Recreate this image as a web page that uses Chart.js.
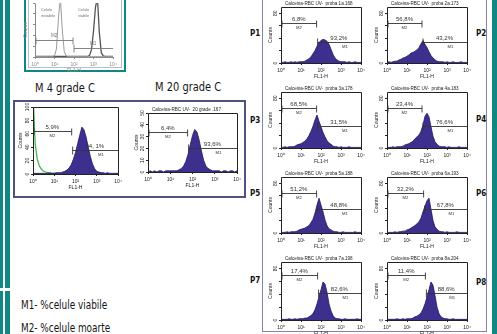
<!DOCTYPE html>
<html>
<head>
<meta charset="utf-8">
<script src="https://cdn.jsdelivr.net/npm/chart.js@4.4.1/dist/chart.umd.min.js"></script>
<style>
  html, body { margin: 0; padding: 0; background: #fff; }
  body { position: relative; width: 497px; height: 334px; overflow: hidden; }
  .blk { position: absolute; }
  .teal { background: #108782; }
  canvas { position: absolute; }
  .cap { position: absolute; font-family: "DejaVu Sans", sans-serif; color: #151515; white-space: nowrap; transform-origin: 0 50%; }
  .plab { position: absolute; font-family: "DejaVu Sans", sans-serif; font-weight: bold; font-size: 9px; line-height: 10px; color: #111; transform: scaleX(0.8); transform-origin: 0 50%; }
</style>
</head>
<body>
<div class="blk teal" style="left:0;top:0;width:3px;height:334px"></div>
<div class="blk teal" style="left:5px;top:0;width:5px;height:334px"></div>
<div class="blk" style="left:0;top:288px;width:12px;height:3px;background:#fff"></div>
<div class="blk teal" style="left:492px;top:0;width:5px;height:334px"></div>

<div class="blk" style="left:24px;top:-4px;width:98px;height:72px;border:2px solid #108782"></div>
<div class="blk" style="left:28px;top:-4px;width:92px;height:70px;border:1px solid #b9bcc4"></div>

<div class="blk" style="left:13px;top:100px;width:229px;height:94px;border:2px solid #4f5180"></div>
<div class="blk" style="left:262px;top:-2px;width:223px;height:332px;border:1px solid #8286ad"></div>

<div class="cap" style="left:35px;top:81px;font-size:13px;line-height:13px;transform:scaleX(0.76)">M 4 grade C</div>
<div class="cap" style="left:155px;top:80px;font-size:13px;line-height:13px;transform:scaleX(0.76)">M 20 grade C</div>
<div class="cap" style="left:21px;top:299px;font-size:12px;line-height:12px;transform:scaleX(0.74)">M1- %celule viabile</div>
<div class="cap" style="left:21px;top:322px;font-size:12px;line-height:12px;transform:scaleX(0.74)">M2- %celule moarte</div>

<div class="plab" style="left:250px;top:28px">P1</div>
<div class="plab" style="left:250px;top:115px">P3</div>
<div class="plab" style="left:250px;top:188px">P5</div>
<div class="plab" style="left:250px;top:275px">P7</div>
<div class="plab" style="left:476px;top:28px">P2</div>
<div class="plab" style="left:476px;top:114px">P4</div>
<div class="plab" style="left:476px;top:188px">P6</div>
<div class="plab" style="left:476px;top:277px">P8</div>

<script>
// log10 fluorescence bins (FL1-H, 10^0 .. 10^4)
const logBins = [0.0, 0.1, 0.2, 0.3, 0.4, 0.5, 0.6, 0.7, 0.8, 0.9, 1.0, 1.1, 1.2, 1.3, 1.4, 1.5, 1.6, 1.7, 1.8, 1.9, 2.0, 2.1, 2.2, 2.3, 2.4, 2.5, 2.6, 2.7, 2.8, 2.9, 3.0, 3.1, 3.2, 3.3, 3.4, 3.5, 3.6, 3.7, 3.8, 3.9, 4.0];
const decadeLabels = ["10⁰", "10¹", "10²", "10³", "10⁴"];

// samples P1..P8
const sampleTitles = ["Calceina-RBC UV-  proba 1a.168", "Calceina-RBC UV-  proba 2a.173", "Calceina-RBC UV-  proba 3a.178", "Calceina-RBC UV-  proba 4a.183",
  "Calceina-RBC UV-  proba 5a.188", "Calceina-RBC UV-  proba 6a.193", "Calceina-RBC UV-  proba 7a.198", "Calceina-RBC UV-  proba 8a.204"];
const deadPct = ["6,8%", "56,8%", "68,5%", "23,4%", "51,2%", "32,2%", "17,4%", "11,4%"];
const livePct = ["93,2%", "43,2%", "31,5%", "76,6%", "48,8%", "67,8%", "82,6%", "88,6%"];
const gateSplit = [1.78, 1.75, 1.78, 1.75, 1.78, 1.83, 1.83, 1.92];
const m2Level = [64, 64, 64, 64, 64, 64, 70, 70];
const m1Level = [33, 33, 35, 35, 39, 39, 42, 42];

const countsP1 = [1,1,2,1,1,2,1,2,1,2,2,2,3,5,7,10,15,20,27,33,36,38,37,35,30,22,14,8,5,3,2,2,2,1,2,1,1,2,1,1,1];
const countsP2 = [1,2,1,2,3,3,5,6,8,9,11,13,16,17,19,21,25,31,36,30,25,18,12,8,5,3,2,2,2,1,2,1,1,2,1,1,1,2,1,1,1];
const countsP3 = [1,1,2,1,2,2,2,3,5,6,7,9,11,15,20,27,35,45,53,43,34,25,18,12,8,6,3,2,2,1,2,1,1,1,2,1,1,1,1,1,1];
const countsP4 = [1,1,1,2,1,2,2,2,3,5,6,7,9,11,15,18,21,27,37,51,56,50,34,19,10,6,3,2,2,2,1,2,1,1,1,1,2,1,1,1,1];
const countsP5 = [1,1,1,2,1,2,2,2,3,5,6,7,8,10,12,17,22,32,45,56,45,34,21,12,7,5,3,2,2,1,1,2,1,1,1,1,1,2,1,1,1];
const countsP6 = [1,1,1,1,2,1,2,2,3,3,5,6,8,10,12,15,18,24,34,43,52,56,38,20,10,6,3,2,2,1,2,1,1,1,1,2,1,1,1,1,1];
const countsP7 = [1,1,1,1,2,1,1,2,1,2,2,2,3,3,5,7,10,16,25,36,47,59,56,43,25,14,7,3,2,2,1,1,2,1,1,1,1,1,2,1,1];
const countsP8 = [1,1,1,1,1,2,1,1,2,1,2,2,2,3,5,6,8,11,17,25,36,47,59,54,38,20,10,5,3,2,2,1,1,2,1,1,1,1,1,1,1];

// 4 and 20 degree samples
const countsM4 = [1,1,1,1,1,1,1,1,1,1,1,2,2,2,3,4,6,9,14,22,32,45,58,70,66,55,40,26,15,8,4,3,2,2,1,2,1,1,1,1,1];
const controlM4 = [125,46,22,12,7,4,3,2,2,1,1,1,1];
const countsM20 = [0,1,0,1,0,1,1,0,1,1,1,1,1,1,2,3,5,9,15,23,31,36,34,27,18,10,5,3,2,1,1,1,1,0,1,1,0,1,1,0,1];

// reference histograms (dead / live cells)
const refDead = [1,1,1,1,1,1,1,1,1,1,2,15,70,110,50,10,2,1,1,1,1,1,1,1,1,1,1,1,1,1,1,1,1,1,1,1,1,1,1,1,1];
const refLive = [1,1,1,1,1,1,1,1,1,1,1,1,1,1,1,1,1,1,1,1,1,1,1,1,1,1,1,1,3,14,48,92,110,45,8,2,1,1,1,1,1];

const FONT = '"Liberation Sans", Arial, sans-serif';
Chart.defaults.font.family = FONT;

function toPoints(values) {
  return values.map((v, i) => ({ x: logBins[i], y: v }));
}

const facsDecor = {
  id: "facsDecor",
  afterDatasetsDraw(chart, args, o) {
    const { ctx, chartArea: a } = chart;
    const xs = chart.scales.x, ys = chart.scales.y;
    ctx.save();
    ctx.strokeStyle = o.ink;
    ctx.fillStyle = o.ink;
    ctx.lineWidth = 1;
    const l = Math.round(a.left) + 0.5, r = Math.round(a.right) + 0.5;
    const t = Math.round(a.top) + 0.5, b = Math.round(a.bottom) + 0.5;
    ctx.beginPath();
    if (o.frame) {
      ctx.rect(l, t, r - l, b - t);
    } else {
      ctx.moveTo(l, t); ctx.lineTo(l, b); ctx.lineTo(r, b);
    }
    ctx.stroke();

    // rotated y labels
    ctx.font = "5px " + FONT;
    ctx.textAlign = "center";
    ctx.textBaseline = "middle";
    ys.ticks.forEach(tk => {
      if (!o.yLabels.includes(tk.value)) return;
      ctx.save();
      ctx.translate(a.left - 5, ys.getPixelForValue(tk.value));
      ctx.rotate(-Math.PI / 2);
      ctx.fillText(String(tk.value), 0, 0);
      ctx.restore();
    });
    ctx.save();
    ctx.translate(a.left - o.countsGap, (a.top + a.bottom) / 2);
    ctx.rotate(-Math.PI / 2);
    ctx.fillText("Counts", 0, 0);
    ctx.restore();
    ctx.fillText("FL1-H", (a.left + a.right) / 2, a.bottom + 14);

    if (o.title) {
      ctx.font = "4.6px " + FONT;
      ctx.textAlign = "left";
      ctx.textBaseline = "bottom";
      ctx.fillText(o.title, a.left + 4, a.top - 1);
    }

    // M1 / M2 gates
    const g = o.gate;
    const x0 = xs.getPixelForValue(0), xm = xs.getPixelForValue(g.split), x4 = xs.getPixelForValue(4);
    const y2 = Math.round(ys.getPixelForValue(g.m2)) + 0.5, y1 = Math.round(ys.getPixelForValue(g.m1)) + 0.5;
    ctx.strokeStyle = o.gateInk;
    ctx.lineWidth = 0.9;
    ctx.beginPath();
    ctx.moveTo(x0, y2); ctx.lineTo(xm, y2);
    ctx.moveTo(x0 + 1, y2 - 3); ctx.lineTo(x0 + 1, y2 + 4);
    ctx.moveTo(xm, y2 - 3); ctx.lineTo(xm, y2 + 4);
    ctx.moveTo(xm + 1, y1); ctx.lineTo(x4, y1);
    ctx.moveTo(xm + 1, y1 - 4); ctx.lineTo(xm + 1, y1 + 4);
    ctx.stroke();
    const c2 = (x0 + xm) / 2, c1 = (xm + x4) / 2;
    ctx.fillStyle = o.gateInk;
    ctx.textAlign = "center";
    if (g.labelsAbove) {
      ctx.font = "4.5px " + FONT;
      ctx.textBaseline = "bottom";
      ctx.fillText("M2", c2, y2 - 2);
      ctx.fillText("M1", c1, y1 - 2);
    } else {
      ctx.font = "4.2px " + FONT;
      ctx.textBaseline = "top";
      ctx.fillText("M2", c2, y2 + 2);
      ctx.fillText("M1", c1 + 6, y1 + 2);
      ctx.font = "6px " + FONT;
      ctx.textBaseline = "bottom";
      ctx.fillText(g.pct2, c2, y2 - 1);
      ctx.fillText(g.pct1, c1, y1 - 1);
    }

    (o.notes || []).forEach(n => {
      ctx.font = "4px " + FONT;
      ctx.textAlign = "left";
      ctx.textBaseline = "middle";
      n.lines.forEach((s, i) => ctx.fillText(s, xs.getPixelForValue(n.x), ys.getPixelForValue(n.y) + i * 6));
    });
    ctx.restore();
  }
};

function addHistogram(plot, spec) {
  const [x0, y0, x1, y1] = plot;
  const L = 16, T = 8, R = 8, B = 18;
  const cv = document.createElement("canvas");
  cv.width = x1 - x0 + L + R;
  cv.height = y1 - y0 + T + B;
  cv.style.left = (x0 - L) + "px";
  cv.style.top = (y0 - T) + "px";
  document.body.appendChild(cv);
  const ink = spec.ink || "#222";
  return new Chart(cv, {
    type: "line",
    data: {
      datasets: spec.series.map(s => ({
        data: toPoints(s.values),
        fill: s.fill ? "origin" : false,
        backgroundColor: s.fill || "transparent",
        borderColor: s.line,
        borderWidth: s.width || 0.8,
        pointRadius: 0,
        tension: 0
      }))
    },
    options: {
      responsive: false,
      animation: false,
      events: [],
      layout: { padding: { left: 0, top: T, right: R, bottom: 0 } },
      plugins: {
        legend: { display: false },
        tooltip: { enabled: false },
        facsDecor: {
          ink: ink,
          gateInk: spec.gateInk || "#333",
          frame: spec.frame !== false,
          title: spec.title,
          yLabels: spec.yLabels,
          countsGap: spec.countsGap,
          gate: spec.gate,
          notes: spec.notes
        }
      },
      scales: {
        x: {
          type: "linear",
          min: 0,
          max: 4,
          afterFit: s => { s.height = B; },
          ticks: { stepSize: 1, autoSkip: false, maxRotation: 0, padding: 3, color: ink, font: { size: 5 }, callback: v => decadeLabels[v] },
          grid: { drawOnChartArea: false, drawTicks: true, tickLength: 2, color: ink },
          border: { display: false }
        },
        y: {
          min: 0,
          max: spec.yMax,
          afterFit: s => { s.width = L; },
          ticks: { display: false, stepSize: spec.yStep, includeBounds: false },
          grid: { drawOnChartArea: false, drawTicks: true, tickLength: 2, color: ink },
          border: { display: false }
        }
      }
    },
    plugins: [facsDecor]
  });
}

const PURPLE = "#3d2f8e", PURPLE_EDGE = "#1f175e";

// reference plot (top left)
addHistogram([35, 3, 113, 57], {
  ink: "#8a8a8a", gateInk: "#777", frame: false, yMax: 100, yStep: 20, yLabels: [], countsGap: 9,
  series: [
    { values: refDead, line: "#9b9b9b", width: 1 },
    { values: refLive, line: "#555", width: 1.3 }
  ],
  gate: { split: 1.95, m2: 31, m1: 17, labelsAbove: true },
  notes: [
    { x: 0.3, y: 87, lines: ["Celule", "inviabile"] },
    { x: 2.2, y: 87, lines: ["Celule", "viabile"] }
  ]
});

// M 4 grade C
addHistogram([33, 107, 118, 174], {
  yMax: 100, yStep: 20, yLabels: [0, 20, 40, 60, 80, 100], countsGap: 12,
  series: [
    { values: countsM4, fill: PURPLE, line: PURPLE_EDGE },
    { values: controlM4, line: "#3cb043", width: 1.2 }
  ],
  gate: { split: 1.82, m2: 64, m1: 36, pct2: "5,9%", pct1: "94, 1%" }
});

// M 20 grade C
addHistogram([148, 113, 237, 172], {
  title: "Calceina-RBC UV-  20 grade .167",
  yMax: 50, yStep: 10, yLabels: [0, 10, 20, 30, 40, 50], countsGap: 11,
  series: [{ values: countsM20, fill: PURPLE, line: PURPLE_EDGE }],
  gate: { split: 1.78, m2: 34, m1: 20, pct2: "6,4%", pct1: "93,6%" }
});

// P1..P8 grid
const sampleCounts = [countsP1, countsP2, countsP3, countsP4, countsP5, countsP6, countsP7, countsP8];
const colX = [[281, 361], [387, 467]];
const rowY = [[7, 63], [92, 148], [177, 233], [262, 320]];
sampleCounts.forEach((vals, i) => {
  const c = colX[i % 2], r = rowY[Math.floor(i / 2)];
  addHistogram([c[0], r[0], c[1], r[1]], {
    title: sampleTitles[i],
    yMax: 90, yStep: 20, yLabels: [0, 80], countsGap: 10,
    series: [{ values: vals, fill: PURPLE, line: PURPLE_EDGE }],
    gate: { split: gateSplit[i], m2: m2Level[i], m1: m1Level[i], pct2: deadPct[i], pct1: livePct[i] }
  });
});
</script>
</body>
</html>
